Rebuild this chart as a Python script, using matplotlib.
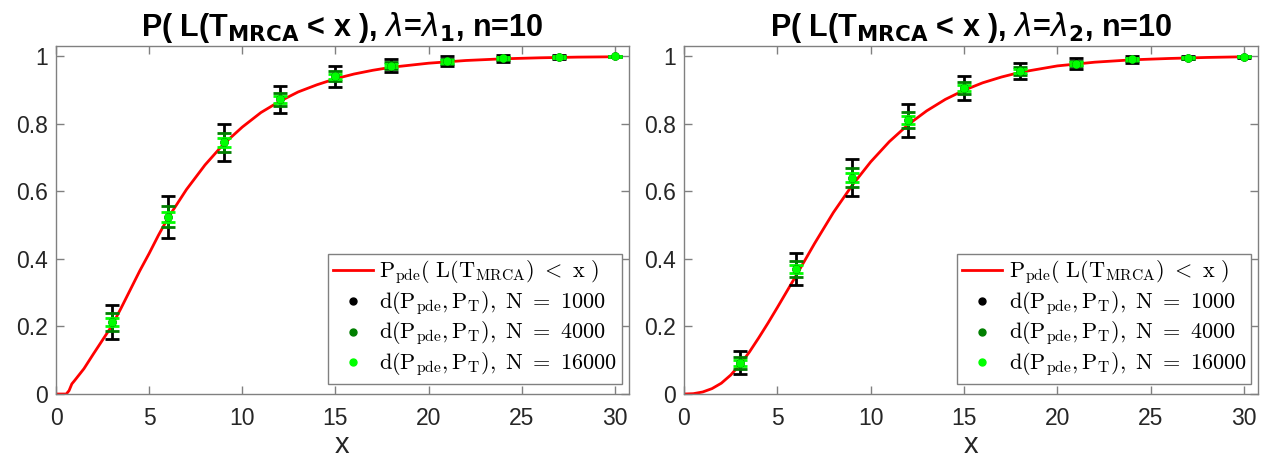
import matplotlib.pyplot as plt
from matplotlib.lines import Line2D

# points where the simulations were evaluated
x_pts = [3, 6, 9, 12, 15, 18, 21, 24, 27, 30]

# panel 1 (lambda_1)
curve1_x = [0, 0.55, 0.7, 0.85, 1.0, 1.5, 2, 2.5, 3, 3.5, 4, 4.5, 5, 5.5, 6, 7, 8, 9, 10, 11, 12,
            13, 14, 15, 16, 17, 18, 20, 22, 24, 26, 28, 30]
curve1_y = [0, 0, 0.01, 0.03, 0.04, 0.075, 0.118, 0.16, 0.202, 0.255, 0.31, 0.365, 0.416, 0.47,
            0.52, 0.605, 0.678, 0.74, 0.79, 0.833, 0.866, 0.894, 0.915, 0.933, 0.947, 0.958, 0.967,
            0.979, 0.987, 0.992, 0.995, 0.997, 0.998]
mean1 = [0.213, 0.524, 0.745, 0.872, 0.94, 0.972, 0.985, 0.993, 0.997, 0.999]
err1_1000 = [0.051, 0.062, 0.055, 0.04, 0.03, 0.02, 0.014, 0.009, 0.005, 0.002]
err1_4000 = [0.026, 0.031, 0.028, 0.02, 0.015, 0.01, 0.007, 0.005, 0.003, 0.001]
err1_16000 = [0.013, 0.016, 0.014, 0.01, 0.008, 0.005, 0.004, 0.003, 0.002, 0.001]

# panel 2 (lambda_2)
curve2_x = [0, 0.5, 1, 1.5, 2, 2.5, 3, 3.5, 4, 4.5, 5, 5.5, 6, 7, 8, 9, 10, 11, 12, 13, 14, 15,
            16, 17, 18, 20, 22, 24, 26, 28, 30]
curve2_y = [0, 0.001, 0.006, 0.016, 0.032, 0.056, 0.087, 0.124, 0.166, 0.21, 0.256, 0.303, 0.35,
            0.446, 0.537, 0.617, 0.687, 0.747, 0.797, 0.838, 0.872, 0.899, 0.921, 0.938, 0.952,
            0.971, 0.982, 0.989, 0.993, 0.996, 0.998]
mean2 = [0.093, 0.37, 0.64, 0.81, 0.905, 0.955, 0.978, 0.99, 0.995, 0.998]
err2_1000 = [0.035, 0.048, 0.055, 0.048, 0.035, 0.024, 0.015, 0.01, 0.005, 0.003]
err2_4000 = [0.018, 0.025, 0.028, 0.024, 0.018, 0.012, 0.008, 0.005, 0.003, 0.002]
err2_16000 = [0.009, 0.013, 0.014, 0.012, 0.009, 0.006, 0.004, 0.003, 0.002, 0.001]

titles = [r'P( L(T$_{\mathbf{MRCA}}$ < x ), $\lambda$=$\lambda_{\mathbf{1}}$, n=10',
          r'P( L(T$_{\mathbf{MRCA}}$ < x ), $\lambda$=$\lambda_{\mathbf{2}}$, n=10']
labels = [r'$\mathrm{P_{pde}(\ L(T_{MRCA})\ <\ x\ )}$',
          r'$\mathrm{d(P_{pde}, P_T),\ N\ =\ 1000}$',
          r'$\mathrm{d(P_{pde}, P_T),\ N\ =\ 4000}$',
          r'$\mathrm{d(P_{pde}, P_T),\ N\ =\ 16000}$']

plt.rcParams['font.family'] = ['Liberation Sans', 'DejaVu Sans']

fig = plt.figure(figsize=(12.73, 4.61), dpi=100)
ax1 = fig.add_axes([0.044, 0.1453, 0.450, 0.755])
ax2 = fig.add_axes([0.5373, 0.1453, 0.451, 0.755])

panels = [(ax1, curve1_x, curve1_y, mean1, err1_1000, err1_4000, err1_16000),
          (ax2, curve2_x, curve2_y, mean2, err2_1000, err2_4000, err2_16000)]

cols = ['black', '#007f00', '#00ff00']

for i, (ax, cx, cy, m, e1, e2, e3) in enumerate(panels):
    for err, c in zip([e1, e2, e3], cols):
        ax.errorbar(x_pts, m, yerr=err, fmt='.', color=c, ecolor=c, markersize=10,
                    capsize=5, capthick=2, elinewidth=2, zorder=3)
    ax.plot(cx, cy, color='red', lw=2, zorder=2)
    ax.set_xlim(0, 30.75)
    ax.set_ylim(0, 1.03)
    ax.set_xticks([0, 5, 10, 15, 20, 25, 30])
    ax.set_yticks([0, 0.2, 0.4, 0.6, 0.8, 1])
    ax.set_yticklabels(['0', '0.2', '0.4', '0.6', '0.8', '1'])
    ax.tick_params(direction='in', top=True, right=True, labelsize=16.5, colors='#262626',
                   length=6, width=1, pad=6)
    ax.tick_params(axis='x', pad=9)
    for t in ['x', 'y']:
        ax.tick_params(axis=t, color='#808080')
    for s in ax.spines.values():
        s.set_color('#808080')
        s.set_linewidth(1)
    ax.set_xlabel('x', fontsize=21, color='#262626', labelpad=1)
    ax.set_title(titles[i], fontsize=22, fontweight='bold', math_fontfamily='dejavusans', pad=7)
    handles = [Line2D([], [], color='red', lw=2),
               Line2D([], [], ls='none', marker='.', color='black', markersize=10),
               Line2D([], [], ls='none', marker='.', color='#007f00', markersize=10),
               Line2D([], [], ls='none', marker='.', color='#00ff00', markersize=10)]
    leg = ax.legend(handles, labels, loc='lower right', bbox_to_anchor=(0.988, 0.03),
                    borderaxespad=0, fancybox=False, framealpha=1, edgecolor='#808080',
                    prop={'size': 16, 'math_fontfamily': 'cm'}, handlelength=1.8,
                    handletextpad=0.3, labelspacing=0.12, borderpad=0.2)
    leg.get_frame().set_linewidth(1)

fig.savefig('out.png', dpi=100)
